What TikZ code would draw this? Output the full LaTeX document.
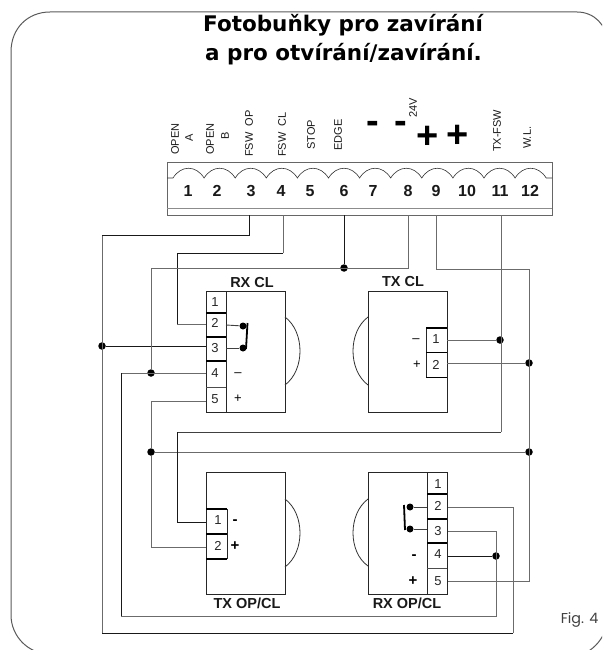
\documentclass[tikz,border=0pt]{standalone}
\usepackage{fontspec}
\setmainfont{Liberation Sans}
\newfontfamily\titlefont{DejaVu Sans}
\newfontfamily\figfont{Poppins}
\tikzset{
  x=1pt,y=-1pt,
  wire/.style={line width=0.9pt,draw=black!75},
  wirek/.style={line width=0.9pt,draw=black!90},
  wireg/.style={line width=1pt,draw=black!58},
  box/.style={line width=0.8pt,draw=black!85},
  thick sep/.style={line width=1.3pt,draw=black},
  thin sep/.style={line width=0.8pt,draw=black!70},
  dotn/.style={circle,fill=black,inner sep=0pt,minimum size=7.5pt},
  smalldot/.style={circle,fill=black,inner sep=0pt,minimum size=7pt},
  toplabel/.style={rotate=90,anchor=west,font=\fontsize{11}{11}\selectfont,inner sep=0pt,text=black!90},
  num/.style={font=\fontsize{13}{13}\selectfont,inner sep=0pt,text=black!85},
  termnum/.style={font=\bfseries\fontsize{16}{16}\selectfont,inner sep=0pt,text=black!90},
  boxlabel/.style={font=\bfseries\fontsize{14.5}{14.5}\selectfont,inner sep=0pt,text=black!90},
  sign/.style={font=\fontsize{13}{13}\selectfont,inner sep=0pt},
  bsign/.style={font=\bfseries\fontsize{15}{15}\selectfont,inner sep=0pt},
  bigsign/.style={font=\bfseries\fontsize{38}{38}\selectfont,inner sep=0pt},
  lens/.style={line width=0.8pt,draw=black!80},
  jump/.style={line width=1.8pt,draw=black},
  titletext/.style={font=\titlefont\bfseries\fontsize{21.5}{21.5}\selectfont,inner sep=0pt,anchor=base west},
}
\begin{document}
\begin{tikzpicture}
\useasboundingbox (0,0) rectangle (602,650);
% frame
\begin{scope}
\clip (0,0) rectangle (602,650);
\draw[line width=1pt,draw=black!65] (11,52) .. controls (11,28) and (28,12) .. (50,12) -- (577,12) .. controls (594,12) and (607,25) .. (607,42) -- (608,615) .. controls (608,639) and (589,658) .. (565,658) -- (50,654) .. controls (28,654) and (11,636) .. (11,615) -- cycle;
\end{scope}
% title
\node[titletext] (t1) at (203,32) {Fotobuňky pro zavírání};
\node[titletext] (t2) at (205,61) {a pro otvírání/zavírání.};
% terminal strip
\draw[box,draw=black!60] (167,162) rectangle (552,215);
\draw[box,draw=black!45] (167,208) -- (552,208);
\draw[lens,line width=.6pt] (167,178) -- (173,178)
  \foreach \i in {0,...,11} { .. controls ({173+31.1*\i+8},{165}) and ({173+31.1*\i+23},{165}) .. ({173+31.1*(\i+1)},178) } -- (552,178);
\foreach \n/\x in {1/188,2/217,3/251,4/281,5/310,6/344,7/373,8/408,9/436,10/467,11/500,12/530}
  \node[termnum] (n\n) at (\x,191) {\n};
% top labels
\node[toplabel] (la) at (175,155) {OPEN};
\node[toplabel] (lb) at (189,142) {A};
\node[toplabel] (lc) at (210,155) {OPEN};
\node[toplabel] (ld) at (225,140) {B};
\node[toplabel] (le) at (249,157) {FSW\ \ OP};
\node[toplabel] (lf) at (282,157) {FSW\ \ CL};
\node[toplabel] (lg) at (311,150) {STOP};
\node[toplabel] (lh) at (338,151) {EDGE};
\node[toplabel] (li) at (413,118) {24V};
\node[toplabel] (lj) at (497,152) {TX-FSW};
\node[toplabel] (lk) at (527,149) {W.L.};
\node[bigsign] (m1) at (373,127) {-};
\node[bigsign] (m2) at (401,127) {-};
\node[bigsign] (p1) at (428,137) {+};
\node[bigsign] (p2) at (458,136) {+};
% boxes
\draw[box] (206,291) rectangle (285,412);
\draw[box] (226,291) -- (226,412);
\draw[box] (368,291) rectangle (447,412);
\draw[box] (426,328) -- (426,377.5);
\draw[box] (206,472) rectangle (285,594);
\draw[box] (227,509) -- (227,559);
\draw[box] (368,472) rectangle (447,594);
\draw[box] (427,472) -- (427,594);
% separators
\foreach \y in {313,337,361} \draw[thick sep] (206,\y) -- (226,\y);
\draw[thin sep] (206,387) -- (226,387);
\foreach \y in {328,352.5,377.5} \draw[thick sep] (426,\y) -- (447,\y);
\foreach \y in {509,534,559} \draw[thick sep] (206,\y) -- (227,\y);
\foreach \y in {494,519,543} \draw[thick sep] (427,\y) -- (447,\y);
\draw[thin sep] (427,568) -- (447,568);
% lenses
\draw[lens] (285,317) .. controls (305,332) and (305,370) .. (285,385);
\draw[lens] (368,317) .. controls (348,332) and (348,370) .. (368,385);
\draw[lens] (285,499) .. controls (305,514) and (305,552) .. (285,567);
\draw[lens] (368,499) .. controls (348,514) and (348,552) .. (368,566);
% numbers
\foreach \n/\y in {1/302,2/323,3/348,4/373,5/399} \node[num] at (215,\y) {\n};
\foreach \n/\y in {1/339,2/365} \node[num] at (436,\y) {\n};
\foreach \n/\y in {1/520,2/546} \node[num] at (218,\y) {\n};
\foreach \n/\y in {1/484,2/506,3/531,4/554,5/581} \node[num] at (438,\y) {\n};
% signs
\node[sign] at (238,375) {–};
\node[sign] at (238,399) {+};
\node[sign] at (416,341) {–};
\node[sign] at (417,365) {+};
\node[bsign] at (235,522) {-};
\node[bsign] at (235,546) {+};
\node[bsign] at (414,557) {-};
\node[bsign] at (413,581) {+};
% box labels
\node[boxlabel] at (252,283) {RX CL};
\node[boxlabel] at (403,282) {TX CL};
\node[boxlabel] at (247,603) {TX OP/CL};
\node[boxlabel] at (407,603) {RX OP/CL};
% junction coordinates
\coordinate (T3) at (249,215);
\coordinate (T4) at (283,215);
\coordinate (T6) at (344,215);
\coordinate (T8) at (408,215);
\coordinate (T9) at (436,215);
\coordinate (T11) at (501,215);
\node[dotn] (D1) at (344,268) {};
\node[dotn] (D2) at (102,346) {};
\node[dotn] (D3) at (151,373) {};
\node[dotn] (D4) at (151,452) {};
\node[dotn] (D5) at (529,452) {};
\node[dotn] (D6) at (500,340) {};
\node[dotn] (D7) at (529,363) {};
\node[dotn] (D8) at (496,556) {};
\coordinate (RC2) at (206,324);
\coordinate (RC3) at (206,346);
\coordinate (RC4) at (206,373);
\coordinate (RC5) at (206,401);
\coordinate (TC1) at (447,340);
\coordinate (TC2) at (447,363);
\coordinate (TO1) at (206,522);
\coordinate (TO2) at (206,547);
\coordinate (RO2) at (448,507);
\coordinate (RO3) at (448,531);
\coordinate (RO4) at (448,556);
\coordinate (RO5) at (448,581);
% wires
\draw[wireg] (102,235) -- (102,633);
\draw[wirek] (T3) -- (249,235) -- (102,235);
\draw[wirek] (102,633) -- (513,633);
\draw[wireg] (513,633) -- (513,507) -- (RO2);
\draw[wirek] (D2) -- (RC3);
\draw[wireg] (T4) -- (283,253);
\draw[wirek] (283,253) -- (177,253) -- (177,324);
\draw[wireg] (177,324) -- (RC2);
\draw[wirek] (T6) -- (D1);
\draw[wireg] (T8) -- (408,268.5) -- (151,268.5) -- (D3);
\draw[wireg] (RC4) -- (121,373);
\draw[wirek] (121,373) -- (121,616);
\draw[wireg] (121,616) -- (496,616) -- (496,531) -- (RO3);
\draw[wireg] (RC5) -- (151,401) -- (D4) -- (151,547) -- (TO2);
\draw[wireg] (D4) -- (D5);
\draw[wireg] (T9) -- (436,269) -- (529,269) -- (529,581) -- (RO5);
\draw[wireg] (T11) -- (501,432);
\draw[wire] (501,432) -- (177,432);
\draw[wirek] (177,432) -- (177,522) -- (TO1);
\draw[wireg] (TC1) -- (D6);
\draw[wireg] (TC2) -- (D7);
\draw[wirek] (RO4) -- (D8);
% jumpers
\node[smalldot] (J1) at (243,326) {};
\node[smalldot] (J2) at (243,348) {};
\node[smalldot] (J3) at (410,507) {};
\node[smalldot] (J4) at (410,529) {};
\draw[wire] (226,325) -- (J1);
\draw[wire] (226,348) -- (J2);
\draw[wire] (427,507) -- (J3);
\draw[wire] (427,529) -- (J4);
\draw[jump] (J1) ++(4.5,-3) -- ++(-1.5,26);
\draw[jump] (J3) ++(-6,-2) -- ++(1,25);
\node[font=\figfont\fontsize{14.3}{14.3}\selectfont,inner sep=0pt,text=black!75] (fig) at (579.5,620) {Fig. 4};
\end{tikzpicture}
\end{document}
